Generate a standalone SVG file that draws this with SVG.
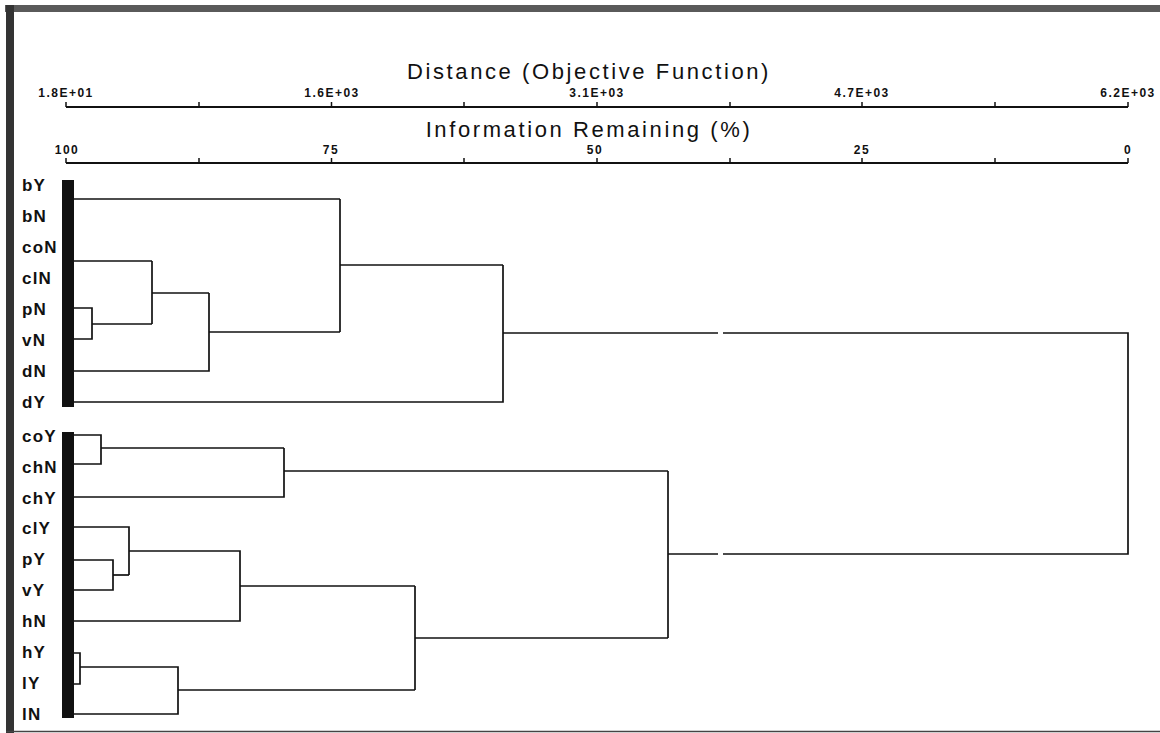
<svg xmlns="http://www.w3.org/2000/svg" width="1160" height="733" viewBox="0 0 1160 733">
<style>
.leaf{font-family:"Liberation Sans",Arial,sans-serif;font-size:17px;font-weight:bold;letter-spacing:1.2px;fill:#111}
.tick{font-family:"Liberation Sans",Arial,sans-serif;font-size:12px;font-weight:bold;letter-spacing:1.5px;fill:#111;text-anchor:middle}
.title{font-family:"Liberation Sans",Arial,sans-serif;font-size:22px;letter-spacing:2.6px;fill:#111;text-anchor:middle}
.ax{stroke:#111;stroke-width:2;fill:none}
.tk{stroke:#111;stroke-width:1.5}
.br{stroke:#111;stroke-width:1.7;fill:none;stroke-linejoin:miter}
.bar{fill:#111}
</style>
<rect x="0" y="0" width="1160" height="733" fill="#fff"/>
<g id="frame">
<rect x="5" y="5" width="1155" height="7" fill="#5a5a5a"/>
<rect x="6" y="5" width="8" height="728" fill="#333"/>
<line x1="6" y1="731.5" x2="1160" y2="731.5" stroke="#444" stroke-width="1.5"/>
</g>
<g id="axis-distance">
<text class="title" x="589" y="79">Distance (Objective Function)</text>
<line class="ax" x1="66" y1="107" x2="1128" y2="107"/>
<g class="tk">
<line x1="66" y1="102" x2="66" y2="107"/><line x1="199" y1="102" x2="199" y2="107"/><line x1="331.5" y1="102" x2="331.5" y2="107"/><line x1="464" y1="102" x2="464" y2="107"/><line x1="597" y1="102" x2="597" y2="107"/><line x1="730" y1="102" x2="730" y2="107"/><line x1="862" y1="102" x2="862" y2="107"/><line x1="995" y1="102" x2="995" y2="107"/><line x1="1128" y1="102" x2="1128" y2="107"/>
</g>
<text class="tick" x="66" y="97">1.8E+01</text>
<text class="tick" x="332" y="97">1.6E+03</text>
<text class="tick" x="597" y="97">3.1E+03</text>
<text class="tick" x="862" y="97">4.7E+03</text>
<text class="tick" x="1128" y="97">6.2E+03</text>
</g>
<g id="axis-information">
<text class="title" x="589" y="137">Information Remaining (%)</text>
<line class="ax" x1="66" y1="163" x2="1128" y2="163"/>
<g class="tk">
<line x1="66" y1="158" x2="66" y2="163"/><line x1="199" y1="158" x2="199" y2="163"/><line x1="331.5" y1="158" x2="331.5" y2="163"/><line x1="464" y1="158" x2="464" y2="163"/><line x1="597" y1="158" x2="597" y2="163"/><line x1="730" y1="158" x2="730" y2="163"/><line x1="862" y1="158" x2="862" y2="163"/><line x1="995" y1="158" x2="995" y2="163"/><line x1="1128" y1="158" x2="1128" y2="163"/>
</g>
<text class="tick" x="67" y="154">100</text>
<text class="tick" x="331" y="154">75</text>
<text class="tick" x="595" y="154">50</text>
<text class="tick" x="862" y="154">25</text>
<text class="tick" x="1128" y="154">0</text>
</g>
<g id="group-bars">
<rect class="bar" x="62" y="180" width="12" height="227"/>
<rect class="bar" x="62" y="432" width="12" height="286"/>
</g>
<g id="node-bY"><text class="leaf" x="22" y="191">bY</text></g>
<g id="node-bN"><text class="leaf" x="22" y="222">bN</text></g>
<g id="node-coN"><text class="leaf" x="22" y="253">coN</text></g>
<g id="node-clN"><text class="leaf" x="22" y="284">clN</text></g>
<g id="node-pN"><text class="leaf" x="22" y="315">pN</text></g>
<g id="node-vN"><text class="leaf" x="22" y="346">vN</text></g>
<g id="node-dN"><text class="leaf" x="22" y="377">dN</text></g>
<g id="node-dY"><text class="leaf" x="22" y="408">dY</text></g>
<g id="node-coY"><text class="leaf" x="22" y="442">coY</text></g>
<g id="node-chN"><text class="leaf" x="22" y="473">chN</text></g>
<g id="node-chY"><text class="leaf" x="22" y="504">chY</text></g>
<g id="node-clY"><text class="leaf" x="22" y="534">clY</text></g>
<g id="node-pY"><text class="leaf" x="22" y="565">pY</text></g>
<g id="node-vY"><text class="leaf" x="22" y="596">vY</text></g>
<g id="node-hN"><text class="leaf" x="22" y="627">hN</text></g>
<g id="node-hY"><text class="leaf" x="22" y="658">hY</text></g>
<g id="node-lY"><text class="leaf" x="22" y="689">lY</text></g>
<g id="node-lN"><text class="leaf" x="22" y="720">lN</text></g>
<g id="connectors" class="br">
<path d="M74,199 H340"/>
<path d="M74,261 H152"/>
<path d="M74,308 H92 V339 H74"/>
<path d="M92,324 H152"/>
<path d="M152,261 V324"/>
<path d="M152,293 H209"/>
<path d="M209,293 V371 H74"/>
<path d="M209,332 H340"/>
<path d="M340,199 V332"/>
<path d="M340,265 H503"/>
<path d="M503,265 V402 H74"/>
<path d="M503,333 H718"/>
<path d="M723,333 H1128 V554 H723"/>
<path d="M718,554 H668"/>
<path d="M74,435 H101 V464 H74"/>
<path d="M101,448 H284"/>
<path d="M284,448 V497 H74"/>
<path d="M284,471 H668"/>
<path d="M668,471 V638"/>
<path d="M74,527 H129 V575"/>
<path d="M74,560 H113 V590 H74"/>
<path d="M113,575 H129"/>
<path d="M129,551 H240 V621 H74"/>
<path d="M240,586 H415"/>
<path d="M74,653 H80 V684 H74"/>
<path d="M80,667 H178 V714 H74"/>
<path d="M178,690 H415"/>
<path d="M415,586 V690"/>
<path d="M415,638 H668"/>
</g>
</svg>
